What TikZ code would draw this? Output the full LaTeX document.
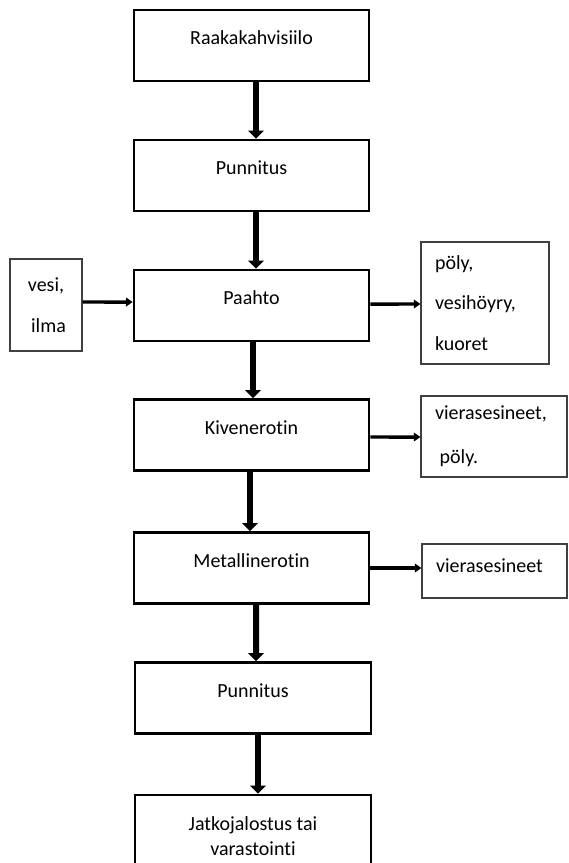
\documentclass[tikz,border=0pt]{standalone}
\usepackage{fontspec}
\setmainfont{Carlito}[Ligatures=NoCommon]
\usetikzlibrary{arrows.meta}

\begin{document}
\begin{tikzpicture}[x=0.75pt, y=-0.75pt,
		font=\fontsize{15}{20}\selectfont,
		boxbase/.style={draw, line width=2pt, minimum width=176.25pt, minimum height=53.25pt},
		stepbox/.style={boxbase, text height=8pt, text depth=9.5pt},
		sidebox/.style={draw=black!75, line width=0.8pt, inner xsep=10.5pt, align=left},
		flowarrow/.style={line width=4.5pt, -{Triangle[width=11.5pt,length=6pt]}},
		sidearrow/.style={line width=2.6pt, -{Triangle[width=6.5pt,length=5pt]}}]
		%%%%% START %%%%%
		
		\useasboundingbox (0, 0) rectangle (568, 863);
		
		% main line
		\node[stepbox] (raw) at (251.5, 45.5) {Raakakahvisiilo};
		\node[stepbox] (pun1) at (251.5, 175.5) {Punnitus};
		\node[stepbox] (paahto) at (251.5, 305.5) {Paahto};
		\node[stepbox] (kiven) at (251.5, 435) {Kivenerotin};
		\node[stepbox] (metal) at (251.5, 568) {Metallinerotin};
		\node[stepbox, minimum width=177pt] (pun2) at (253, 698) {Punnitus};
		\node[boxbase, minimum width=177pt, minimum height=62.25pt, align=center,
			font=\fontsize{15}{18.75}\selectfont] (jatko) at (253, 836.5) {Jatkojalostus tai\\varastointi};
		
		% inputs and outputs
		\node[sidebox, align=center, inner xsep=0pt, minimum width=54pt, minimum height=69pt,
			font=\fontsize{15}{30.75}\selectfont] (vesi) at (46, 305) {vesi,\\\hspace{3.75pt}ilma};
		\node[sidebox, text width=75pt, minimum height=91.5pt,
			font=\fontsize{15}{30.4}\selectfont] (poly) at (485, 303) {pöly,\\vesihöyry,\\kuoret};
		\node[sidebox, text width=88.5pt, minimum height=60.75pt,
			font=\fontsize{15}{33}\selectfont] (kivi) at (494, 436.5) {vierasesineet,\\\hspace{3.5pt}pöly.};
		\node[sidebox, text width=87.75pt, minimum height=40.5pt,
			text height=8pt, text depth=6.5pt] (metside) at (494.5, 571) {vierasesineet};
		
		% flow arrows
		\draw[flowarrow] ([xshift=3.4pt]raw.south) -- ([xshift=3.4pt]pun1.north);
		\draw[flowarrow] ([xshift=3.4pt]pun1.south) -- ([xshift=3.4pt]paahto.north);
		\draw[flowarrow] ([xshift=1.1pt]paahto.south) -- ([xshift=1.1pt]kiven.north);
		\draw[flowarrow] ([xshift=-1.1pt]kiven.south) -- ([xshift=-1.1pt]metal.north);
		\draw[flowarrow] ([xshift=3.4pt]metal.south) -- ([xshift=2.3pt]pun2.north);
		\draw[flowarrow] ([xshift=3.75pt]pun2.south) -- ([xshift=3.75pt]jatko.north);
		
		% side arrows
		\draw[sidearrow] ([yshift=2.25pt]vesi.east) -- ([yshift=2.6pt]paahto.west);
		\draw[sidearrow] ([yshift=1.1pt]paahto.east) -- ([yshift=-0.75pt]poly.west);
		\draw[sidearrow] ([yshift=-1.5pt]kiven.east) -- ([yshift=-0.4pt]kivi.west);
		\draw[sidearrow] (metal.east) -- ([yshift=2.25pt]metside.west);
		
		%%%%% END %%%%%
	\end{tikzpicture}
\end{document}
